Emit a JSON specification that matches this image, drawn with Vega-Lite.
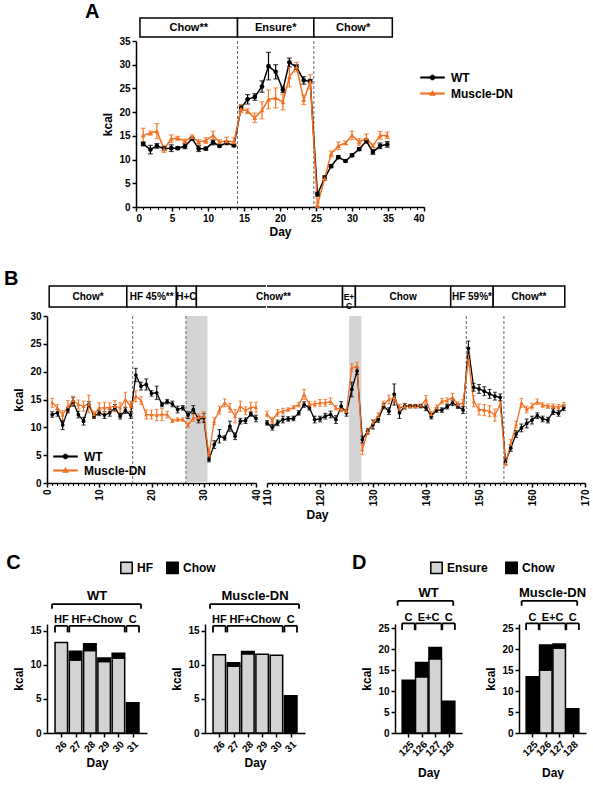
{
  "$schema": "https://vega.github.io/schema/vega-lite/v6.json",
  "background": "white",
  "padding": {"left": 3, "top": 2, "right": 3, "bottom": 0},
  "config": {
    "font": "Liberation Sans",
    "view": {"stroke": null},
    "axis": {"domainColor": "black", "domainWidth": 1.5, "tickColor": "black", "tickWidth": 1.5, "tickSize": 4, "labelFontWeight": "bold", "labelFontSize": 10, "labelColor": "black", "labelPadding": 2, "labelOverlap": false, "labelBound": false, "titleFontWeight": "bold", "titleFontSize": 12, "titleColor": "black", "grid": false},
    "title": {"fontSize": 20, "fontWeight": "bold", "anchor": "start", "color": "black"},
    "legend": {"labelFontWeight": "bold", "labelFontSize": 12, "labelColor": "black"},
    "text": {"fontWeight": "bold", "color": "black"}
  },
  "resolve": {"scale": {"color": "independent", "shape": "independent", "fill": "independent"}},
  "spacing": 32,
  "datasets": {
    "hdrA": [
      {"label": "Chow**", "start": 0.55, "end": 14.1},
      {"label": "Ensure*", "start": 14.1, "end": 24.7},
      {"label": "Chow*", "start": 24.7, "end": 35.6}
    ],
    "lineA": [{"day": 14.1}, {"day": 24.7}],
    "a": [
      {"day": 1.0, "group": "WT", "kcal": 13.3, "sem": 0.4},
      {"day": 2.0, "group": "WT", "kcal": 12.1, "sem": 0.9},
      {"day": 2.9, "group": "WT", "kcal": 12.9, "sem": 0.5},
      {"day": 3.9, "group": "WT", "kcal": 12.3, "sem": 0.4},
      {"day": 4.9, "group": "WT", "kcal": 12.4, "sem": 0.7},
      {"day": 5.8, "group": "WT", "kcal": 12.4, "sem": 0.3},
      {"day": 6.8, "group": "WT", "kcal": 12.8, "sem": 0.5},
      {"day": 7.8, "group": "WT", "kcal": 14.4, "sem": 0.3},
      {"day": 8.7, "group": "WT", "kcal": 12.3, "sem": 0.6},
      {"day": 9.7, "group": "WT", "kcal": 12.3, "sem": 0.3},
      {"day": 10.7, "group": "WT", "kcal": 13.6, "sem": 0.5},
      {"day": 11.6, "group": "WT", "kcal": 12.9, "sem": 0.3},
      {"day": 12.6, "group": "WT", "kcal": 13.5, "sem": 0.3},
      {"day": 13.6, "group": "WT", "kcal": 13.0, "sem": 0.3},
      {"day": 14.6, "group": "WT", "kcal": 20.9, "sem": 0.6},
      {"day": 15.5, "group": "WT", "kcal": 22.7, "sem": 1.0},
      {"day": 16.5, "group": "WT", "kcal": 23.2, "sem": 0.7},
      {"day": 17.5, "group": "WT", "kcal": 25.4, "sem": 1.2},
      {"day": 18.4, "group": "WT", "kcal": 29.7, "sem": 2.9},
      {"day": 19.4, "group": "WT", "kcal": 28.5, "sem": 1.5},
      {"day": 20.4, "group": "WT", "kcal": 24.7, "sem": 0.6},
      {"day": 21.3, "group": "WT", "kcal": 30.5, "sem": 0.9},
      {"day": 22.3, "group": "WT", "kcal": 29.5, "sem": 0.5},
      {"day": 23.3, "group": "WT", "kcal": 26.7, "sem": 0.8},
      {"day": 24.2, "group": "WT", "kcal": 26.5, "sem": 0.4},
      {"day": 25.2, "group": "WT", "kcal": 2.7, "sem": 0.4},
      {"day": 26.2, "group": "WT", "kcal": 6.1, "sem": 0.5},
      {"day": 27.1, "group": "WT", "kcal": 8.6, "sem": 0.3},
      {"day": 28.1, "group": "WT", "kcal": 10.5, "sem": 0.3},
      {"day": 29.1, "group": "WT", "kcal": 9.7, "sem": 0.2},
      {"day": 30.0, "group": "WT", "kcal": 10.9, "sem": 0.3},
      {"day": 31.0, "group": "WT", "kcal": 12.2, "sem": 0.3},
      {"day": 32.0, "group": "WT", "kcal": 13.9, "sem": 0.4},
      {"day": 32.9, "group": "WT", "kcal": 11.6, "sem": 0.5},
      {"day": 33.9, "group": "WT", "kcal": 12.9, "sem": 0.6},
      {"day": 34.9, "group": "WT", "kcal": 13.2, "sem": 0.6},
      {"day": 1.0, "group": "Muscle-DN", "kcal": 15.1, "sem": 1.5},
      {"day": 2.0, "group": "Muscle-DN", "kcal": 15.6, "sem": 0.4},
      {"day": 2.9, "group": "Muscle-DN", "kcal": 16.0, "sem": 1.6},
      {"day": 3.9, "group": "Muscle-DN", "kcal": 12.2, "sem": 0.7},
      {"day": 4.9, "group": "Muscle-DN", "kcal": 14.4, "sem": 0.8},
      {"day": 5.8, "group": "Muscle-DN", "kcal": 14.5, "sem": 0.4},
      {"day": 6.8, "group": "Muscle-DN", "kcal": 13.9, "sem": 0.4},
      {"day": 7.8, "group": "Muscle-DN", "kcal": 14.8, "sem": 0.4},
      {"day": 8.7, "group": "Muscle-DN", "kcal": 13.7, "sem": 0.5},
      {"day": 9.7, "group": "Muscle-DN", "kcal": 14.0, "sem": 0.6},
      {"day": 10.7, "group": "Muscle-DN", "kcal": 15.1, "sem": 0.9},
      {"day": 11.6, "group": "Muscle-DN", "kcal": 13.7, "sem": 0.5},
      {"day": 12.6, "group": "Muscle-DN", "kcal": 13.9, "sem": 0.8},
      {"day": 13.6, "group": "Muscle-DN", "kcal": 13.7, "sem": 0.9},
      {"day": 14.6, "group": "Muscle-DN", "kcal": 20.7, "sem": 0.8},
      {"day": 15.5, "group": "Muscle-DN", "kcal": 20.2, "sem": 0.5},
      {"day": 16.5, "group": "Muscle-DN", "kcal": 18.8, "sem": 1.0},
      {"day": 17.5, "group": "Muscle-DN", "kcal": 20.4, "sem": 1.8},
      {"day": 18.4, "group": "Muscle-DN", "kcal": 22.7, "sem": 2.0},
      {"day": 19.4, "group": "Muscle-DN", "kcal": 23.0, "sem": 2.1},
      {"day": 20.4, "group": "Muscle-DN", "kcal": 22.1, "sem": 1.6},
      {"day": 21.3, "group": "Muscle-DN", "kcal": 27.4, "sem": 2.1},
      {"day": 22.3, "group": "Muscle-DN", "kcal": 29.5, "sem": 1.0},
      {"day": 23.3, "group": "Muscle-DN", "kcal": 22.6, "sem": 1.0},
      {"day": 24.2, "group": "Muscle-DN", "kcal": 26.4, "sem": 1.5},
      {"day": 25.2, "group": "Muscle-DN", "kcal": 0.4, "sem": 0.5},
      {"day": 26.2, "group": "Muscle-DN", "kcal": 6.0, "sem": 0.4},
      {"day": 27.1, "group": "Muscle-DN", "kcal": 11.2, "sem": 0.6},
      {"day": 28.1, "group": "Muscle-DN", "kcal": 12.9, "sem": 0.8},
      {"day": 29.1, "group": "Muscle-DN", "kcal": 13.5, "sem": 0.4},
      {"day": 30.0, "group": "Muscle-DN", "kcal": 15.1, "sem": 0.9},
      {"day": 31.0, "group": "Muscle-DN", "kcal": 13.7, "sem": 0.7},
      {"day": 32.0, "group": "Muscle-DN", "kcal": 14.5, "sem": 0.9},
      {"day": 32.9, "group": "Muscle-DN", "kcal": 12.9, "sem": 0.4},
      {"day": 33.9, "group": "Muscle-DN", "kcal": 15.1, "sem": 0.8},
      {"day": 34.9, "group": "Muscle-DN", "kcal": 15.1, "sem": 0.7}
    ],
    "hdrB": [
      {"label": "Chow*", "start": 0.45, "end": 16.4},
      {"label": "HF 45%**", "start": 16.4, "end": 26.6},
      {"label": "H+C", "start": 26.6, "end": 30.7},
      {"label": "Chow**", "start": 30.7, "end": 125.3},
      {"label": "E+\nC", "start": 125.3, "end": 127.9},
      {"label": "Chow", "start": 127.9, "end": 147.2},
      {"label": "HF 59%*", "start": 147.2, "end": 155.8},
      {"label": "Chow**", "start": 155.8, "end": 170.3}
    ],
    "bandB": [{"start": 26.6, "end": 30.7}, {"start": 125.5, "end": 127.8}],
    "lineB": [{"day": 16.4}, {"day": 26.6}, {"day": 147.6}, {"day": 154.7}],
    "b": [
      {"day": 1, "group": "WT", "kcal": 12.3, "sem": 0.5},
      {"day": 2, "group": "WT", "kcal": 12.6, "sem": 0.6},
      {"day": 3, "group": "WT", "kcal": 10.4, "sem": 0.8},
      {"day": 4, "group": "WT", "kcal": 13.1, "sem": 0.5},
      {"day": 5, "group": "WT", "kcal": 14.6, "sem": 0.8},
      {"day": 6, "group": "WT", "kcal": 12.3, "sem": 0.6},
      {"day": 7, "group": "WT", "kcal": 11.1, "sem": 0.7},
      {"day": 8, "group": "WT", "kcal": 14.1, "sem": 0.5},
      {"day": 9, "group": "WT", "kcal": 12.0, "sem": 0.4},
      {"day": 10, "group": "WT", "kcal": 12.6, "sem": 0.5},
      {"day": 11, "group": "WT", "kcal": 12.2, "sem": 0.6},
      {"day": 12, "group": "WT", "kcal": 12.6, "sem": 0.6},
      {"day": 13, "group": "WT", "kcal": 13.5, "sem": 0.6},
      {"day": 14, "group": "WT", "kcal": 12.0, "sem": 0.5},
      {"day": 15, "group": "WT", "kcal": 13.0, "sem": 0.5},
      {"day": 16, "group": "WT", "kcal": 12.2, "sem": 0.6},
      {"day": 17, "group": "WT", "kcal": 19.4, "sem": 1.2},
      {"day": 18, "group": "WT", "kcal": 17.4, "sem": 0.7},
      {"day": 19, "group": "WT", "kcal": 17.7, "sem": 1.0},
      {"day": 20, "group": "WT", "kcal": 16.1, "sem": 0.5},
      {"day": 21, "group": "WT", "kcal": 16.2, "sem": 1.2},
      {"day": 22, "group": "WT", "kcal": 14.1, "sem": 0.4},
      {"day": 23, "group": "WT", "kcal": 14.6, "sem": 0.4},
      {"day": 24, "group": "WT", "kcal": 14.2, "sem": 0.5},
      {"day": 25, "group": "WT", "kcal": 13.2, "sem": 0.6},
      {"day": 26, "group": "WT", "kcal": 13.5, "sem": 0.4},
      {"day": 27, "group": "WT", "kcal": 12.2, "sem": 0.6},
      {"day": 28, "group": "WT", "kcal": 13.2, "sem": 0.7},
      {"day": 29, "group": "WT", "kcal": 11.4, "sem": 0.6},
      {"day": 30, "group": "WT", "kcal": 11.7, "sem": 0.8},
      {"day": 31, "group": "WT", "kcal": 4.2, "sem": 0.4},
      {"day": 32, "group": "WT", "kcal": 6.9, "sem": 0.7},
      {"day": 33, "group": "WT", "kcal": 8.4, "sem": 1.2},
      {"day": 34, "group": "WT", "kcal": 8.1, "sem": 0.4},
      {"day": 35, "group": "WT", "kcal": 10.2, "sem": 0.9},
      {"day": 36, "group": "WT", "kcal": 8.4, "sem": 0.6},
      {"day": 37, "group": "WT", "kcal": 11.1, "sem": 0.5},
      {"day": 38, "group": "WT", "kcal": 11.2, "sem": 0.5},
      {"day": 39, "group": "WT", "kcal": 12.4, "sem": 0.4},
      {"day": 40, "group": "WT", "kcal": 11.6, "sem": 0.6},
      {"day": 110, "group": "WT", "kcal": 10.8, "sem": 0.4},
      {"day": 111, "group": "WT", "kcal": 10.0, "sem": 0.5},
      {"day": 112, "group": "WT", "kcal": 10.8, "sem": 0.5},
      {"day": 113, "group": "WT", "kcal": 11.4, "sem": 0.6},
      {"day": 114, "group": "WT", "kcal": 11.5, "sem": 0.4},
      {"day": 115, "group": "WT", "kcal": 11.6, "sem": 0.4},
      {"day": 116, "group": "WT", "kcal": 12.6, "sem": 0.4},
      {"day": 117, "group": "WT", "kcal": 14.1, "sem": 0.5},
      {"day": 118, "group": "WT", "kcal": 13.5, "sem": 0.4},
      {"day": 119, "group": "WT", "kcal": 11.4, "sem": 0.6},
      {"day": 120, "group": "WT", "kcal": 11.5, "sem": 0.5},
      {"day": 121, "group": "WT", "kcal": 12.0, "sem": 0.5},
      {"day": 122, "group": "WT", "kcal": 12.3, "sem": 0.6},
      {"day": 123, "group": "WT", "kcal": 11.4, "sem": 0.7},
      {"day": 124, "group": "WT", "kcal": 13.8, "sem": 0.8},
      {"day": 125, "group": "WT", "kcal": 12.6, "sem": 0.6},
      {"day": 126, "group": "WT", "kcal": 16.8, "sem": 1.3},
      {"day": 127, "group": "WT", "kcal": 20.1, "sem": 0.6},
      {"day": 128, "group": "WT", "kcal": 7.8, "sem": 0.6},
      {"day": 129, "group": "WT", "kcal": 9.3, "sem": 0.5},
      {"day": 130, "group": "WT", "kcal": 10.5, "sem": 0.8},
      {"day": 131, "group": "WT", "kcal": 11.4, "sem": 0.5},
      {"day": 132, "group": "WT", "kcal": 13.8, "sem": 0.5},
      {"day": 133, "group": "WT", "kcal": 12.9, "sem": 0.6},
      {"day": 134, "group": "WT", "kcal": 15.9, "sem": 1.9},
      {"day": 135, "group": "WT", "kcal": 12.6, "sem": 1.0},
      {"day": 136, "group": "WT", "kcal": 13.8, "sem": 0.5},
      {"day": 137, "group": "WT", "kcal": 13.8, "sem": 0.3},
      {"day": 138, "group": "WT", "kcal": 13.8, "sem": 0.3},
      {"day": 139, "group": "WT", "kcal": 13.8, "sem": 0.3},
      {"day": 140, "group": "WT", "kcal": 13.5, "sem": 0.5},
      {"day": 141, "group": "WT", "kcal": 12.0, "sem": 0.5},
      {"day": 142, "group": "WT", "kcal": 13.1, "sem": 0.4},
      {"day": 143, "group": "WT", "kcal": 13.1, "sem": 0.4},
      {"day": 144, "group": "WT", "kcal": 13.7, "sem": 0.4},
      {"day": 145, "group": "WT", "kcal": 14.4, "sem": 0.5},
      {"day": 146, "group": "WT", "kcal": 13.8, "sem": 0.4},
      {"day": 147, "group": "WT", "kcal": 13.1, "sem": 0.6},
      {"day": 148, "group": "WT", "kcal": 24.2, "sem": 1.3},
      {"day": 149, "group": "WT", "kcal": 17.2, "sem": 0.7},
      {"day": 150, "group": "WT", "kcal": 16.9, "sem": 0.8},
      {"day": 151, "group": "WT", "kcal": 16.5, "sem": 0.8},
      {"day": 152, "group": "WT", "kcal": 16.0, "sem": 0.8},
      {"day": 153, "group": "WT", "kcal": 15.6, "sem": 0.7},
      {"day": 154, "group": "WT", "kcal": 15.4, "sem": 0.6},
      {"day": 155, "group": "WT", "kcal": 3.8, "sem": 0.5},
      {"day": 156, "group": "WT", "kcal": 6.3, "sem": 0.6},
      {"day": 157, "group": "WT", "kcal": 8.8, "sem": 0.6},
      {"day": 158, "group": "WT", "kcal": 9.9, "sem": 0.7},
      {"day": 159, "group": "WT", "kcal": 10.7, "sem": 0.8},
      {"day": 160, "group": "WT", "kcal": 11.3, "sem": 0.7},
      {"day": 161, "group": "WT", "kcal": 12.1, "sem": 0.5},
      {"day": 162, "group": "WT", "kcal": 11.5, "sem": 0.5},
      {"day": 163, "group": "WT", "kcal": 11.3, "sem": 0.5},
      {"day": 164, "group": "WT", "kcal": 12.8, "sem": 0.5},
      {"day": 165, "group": "WT", "kcal": 12.5, "sem": 0.5},
      {"day": 166, "group": "WT", "kcal": 13.5, "sem": 0.5},
      {"day": 1, "group": "Muscle-DN", "kcal": 14.4, "sem": 0.8},
      {"day": 2, "group": "Muscle-DN", "kcal": 13.5, "sem": 0.6},
      {"day": 3, "group": "Muscle-DN", "kcal": 12.2, "sem": 0.8},
      {"day": 4, "group": "Muscle-DN", "kcal": 13.8, "sem": 1.0},
      {"day": 5, "group": "Muscle-DN", "kcal": 14.8, "sem": 0.8},
      {"day": 6, "group": "Muscle-DN", "kcal": 14.1, "sem": 0.8},
      {"day": 7, "group": "Muscle-DN", "kcal": 13.8, "sem": 0.9},
      {"day": 8, "group": "Muscle-DN", "kcal": 14.2, "sem": 1.6},
      {"day": 9, "group": "Muscle-DN", "kcal": 12.3, "sem": 0.6},
      {"day": 10, "group": "Muscle-DN", "kcal": 13.5, "sem": 0.9},
      {"day": 11, "group": "Muscle-DN", "kcal": 13.5, "sem": 1.0},
      {"day": 12, "group": "Muscle-DN", "kcal": 13.6, "sem": 0.8},
      {"day": 13, "group": "Muscle-DN", "kcal": 13.8, "sem": 1.0},
      {"day": 14, "group": "Muscle-DN", "kcal": 13.5, "sem": 0.9},
      {"day": 15, "group": "Muscle-DN", "kcal": 15.0, "sem": 1.3},
      {"day": 16, "group": "Muscle-DN", "kcal": 13.8, "sem": 0.9},
      {"day": 17, "group": "Muscle-DN", "kcal": 15.6, "sem": 1.0},
      {"day": 18, "group": "Muscle-DN", "kcal": 14.8, "sem": 0.7},
      {"day": 19, "group": "Muscle-DN", "kcal": 12.3, "sem": 0.8},
      {"day": 20, "group": "Muscle-DN", "kcal": 12.3, "sem": 0.8},
      {"day": 21, "group": "Muscle-DN", "kcal": 12.2, "sem": 1.0},
      {"day": 22, "group": "Muscle-DN", "kcal": 12.3, "sem": 1.1},
      {"day": 23, "group": "Muscle-DN", "kcal": 12.3, "sem": 0.6},
      {"day": 24, "group": "Muscle-DN", "kcal": 11.2, "sem": 0.3},
      {"day": 25, "group": "Muscle-DN", "kcal": 11.4, "sem": 0.3},
      {"day": 26, "group": "Muscle-DN", "kcal": 11.4, "sem": 0.3},
      {"day": 27, "group": "Muscle-DN", "kcal": 10.4, "sem": 0.4},
      {"day": 28, "group": "Muscle-DN", "kcal": 11.7, "sem": 0.6},
      {"day": 29, "group": "Muscle-DN", "kcal": 11.7, "sem": 0.7},
      {"day": 30, "group": "Muscle-DN", "kcal": 12.0, "sem": 0.8},
      {"day": 31, "group": "Muscle-DN", "kcal": 5.1, "sem": 0.5},
      {"day": 32, "group": "Muscle-DN", "kcal": 11.1, "sem": 0.6},
      {"day": 33, "group": "Muscle-DN", "kcal": 13.1, "sem": 0.7},
      {"day": 34, "group": "Muscle-DN", "kcal": 14.4, "sem": 0.7},
      {"day": 35, "group": "Muscle-DN", "kcal": 13.5, "sem": 0.8},
      {"day": 36, "group": "Muscle-DN", "kcal": 12.0, "sem": 1.2},
      {"day": 37, "group": "Muscle-DN", "kcal": 13.8, "sem": 0.9},
      {"day": 38, "group": "Muscle-DN", "kcal": 13.0, "sem": 0.7},
      {"day": 39, "group": "Muscle-DN", "kcal": 13.6, "sem": 0.9},
      {"day": 40, "group": "Muscle-DN", "kcal": 13.6, "sem": 0.9},
      {"day": 110, "group": "Muscle-DN", "kcal": 12.4, "sem": 0.5},
      {"day": 111, "group": "Muscle-DN", "kcal": 11.2, "sem": 0.5},
      {"day": 112, "group": "Muscle-DN", "kcal": 12.6, "sem": 0.6},
      {"day": 113, "group": "Muscle-DN", "kcal": 12.9, "sem": 0.5},
      {"day": 114, "group": "Muscle-DN", "kcal": 13.2, "sem": 0.3},
      {"day": 115, "group": "Muscle-DN", "kcal": 13.6, "sem": 0.3},
      {"day": 116, "group": "Muscle-DN", "kcal": 14.1, "sem": 0.4},
      {"day": 117, "group": "Muscle-DN", "kcal": 15.9, "sem": 0.9},
      {"day": 118, "group": "Muscle-DN", "kcal": 14.1, "sem": 0.6},
      {"day": 119, "group": "Muscle-DN", "kcal": 14.2, "sem": 0.5},
      {"day": 120, "group": "Muscle-DN", "kcal": 14.4, "sem": 0.6},
      {"day": 121, "group": "Muscle-DN", "kcal": 14.4, "sem": 0.6},
      {"day": 122, "group": "Muscle-DN", "kcal": 14.7, "sem": 0.6},
      {"day": 123, "group": "Muscle-DN", "kcal": 13.5, "sem": 0.4},
      {"day": 124, "group": "Muscle-DN", "kcal": 13.2, "sem": 0.4},
      {"day": 125, "group": "Muscle-DN", "kcal": 12.9, "sem": 0.4},
      {"day": 126, "group": "Muscle-DN", "kcal": 20.7, "sem": 0.7},
      {"day": 127, "group": "Muscle-DN", "kcal": 21.0, "sem": 0.7},
      {"day": 128, "group": "Muscle-DN", "kcal": 6.0, "sem": 0.9},
      {"day": 129, "group": "Muscle-DN", "kcal": 9.3, "sem": 0.5},
      {"day": 130, "group": "Muscle-DN", "kcal": 10.8, "sem": 0.5},
      {"day": 131, "group": "Muscle-DN", "kcal": 12.0, "sem": 0.6},
      {"day": 132, "group": "Muscle-DN", "kcal": 14.1, "sem": 0.6},
      {"day": 133, "group": "Muscle-DN", "kcal": 15.0, "sem": 0.8},
      {"day": 134, "group": "Muscle-DN", "kcal": 15.3, "sem": 0.8},
      {"day": 135, "group": "Muscle-DN", "kcal": 13.5, "sem": 0.6},
      {"day": 136, "group": "Muscle-DN", "kcal": 13.8, "sem": 0.5},
      {"day": 137, "group": "Muscle-DN", "kcal": 13.8, "sem": 0.3},
      {"day": 138, "group": "Muscle-DN", "kcal": 13.8, "sem": 0.3},
      {"day": 139, "group": "Muscle-DN", "kcal": 13.9, "sem": 0.3},
      {"day": 140, "group": "Muscle-DN", "kcal": 15.0, "sem": 0.7},
      {"day": 141, "group": "Muscle-DN", "kcal": 12.3, "sem": 0.5},
      {"day": 142, "group": "Muscle-DN", "kcal": 13.5, "sem": 0.5},
      {"day": 143, "group": "Muscle-DN", "kcal": 14.7, "sem": 0.5},
      {"day": 144, "group": "Muscle-DN", "kcal": 14.8, "sem": 0.5},
      {"day": 145, "group": "Muscle-DN", "kcal": 15.4, "sem": 0.7},
      {"day": 146, "group": "Muscle-DN", "kcal": 14.1, "sem": 0.5},
      {"day": 147, "group": "Muscle-DN", "kcal": 14.4, "sem": 0.6},
      {"day": 148, "group": "Muscle-DN", "kcal": 22.2, "sem": 0.9},
      {"day": 149, "group": "Muscle-DN", "kcal": 14.7, "sem": 1.0},
      {"day": 150, "group": "Muscle-DN", "kcal": 13.2, "sem": 1.0},
      {"day": 151, "group": "Muscle-DN", "kcal": 13.1, "sem": 1.0},
      {"day": 152, "group": "Muscle-DN", "kcal": 12.9, "sem": 1.0},
      {"day": 153, "group": "Muscle-DN", "kcal": 12.2, "sem": 1.1},
      {"day": 154, "group": "Muscle-DN", "kcal": 14.1, "sem": 0.6},
      {"day": 155, "group": "Muscle-DN", "kcal": 3.6, "sem": 0.5},
      {"day": 156, "group": "Muscle-DN", "kcal": 7.0, "sem": 0.8},
      {"day": 157, "group": "Muscle-DN", "kcal": 10.5, "sem": 0.6},
      {"day": 158, "group": "Muscle-DN", "kcal": 14.4, "sem": 0.8},
      {"day": 159, "group": "Muscle-DN", "kcal": 13.2, "sem": 0.6},
      {"day": 160, "group": "Muscle-DN", "kcal": 13.8, "sem": 0.5},
      {"day": 161, "group": "Muscle-DN", "kcal": 14.6, "sem": 0.5},
      {"day": 162, "group": "Muscle-DN", "kcal": 14.0, "sem": 0.4},
      {"day": 163, "group": "Muscle-DN", "kcal": 13.8, "sem": 0.4},
      {"day": 164, "group": "Muscle-DN", "kcal": 13.8, "sem": 0.4},
      {"day": 165, "group": "Muscle-DN", "kcal": 13.6, "sem": 0.5},
      {"day": 166, "group": "Muscle-DN", "kcal": 14.0, "sem": 0.5}
    ],
    "barC": [
      {"group": "WT", "day": 26, "comp": "HF", "kcal": 13.3},
      {"group": "WT", "day": 27, "comp": "HF", "kcal": 10.7},
      {"group": "WT", "day": 27, "comp": "Chow", "kcal": 1.3},
      {"group": "WT", "day": 28, "comp": "HF", "kcal": 12.1},
      {"group": "WT", "day": 28, "comp": "Chow", "kcal": 1.0},
      {"group": "WT", "day": 29, "comp": "HF", "kcal": 10.5},
      {"group": "WT", "day": 29, "comp": "Chow", "kcal": 0.5},
      {"group": "WT", "day": 30, "comp": "HF", "kcal": 11.0},
      {"group": "WT", "day": 30, "comp": "Chow", "kcal": 0.7},
      {"group": "WT", "day": 31, "comp": "Chow", "kcal": 4.45},
      {"group": "Muscle-DN", "day": 26, "comp": "HF", "kcal": 11.5},
      {"group": "Muscle-DN", "day": 27, "comp": "HF", "kcal": 9.8},
      {"group": "Muscle-DN", "day": 27, "comp": "Chow", "kcal": 0.5},
      {"group": "Muscle-DN", "day": 28, "comp": "HF", "kcal": 11.65},
      {"group": "Muscle-DN", "day": 28, "comp": "Chow", "kcal": 0.3},
      {"group": "Muscle-DN", "day": 29, "comp": "HF", "kcal": 11.55},
      {"group": "Muscle-DN", "day": 30, "comp": "HF", "kcal": 11.4},
      {"group": "Muscle-DN", "day": 31, "comp": "Chow", "kcal": 5.45}
    ],
    "barD": [
      {"group": "WT", "day": 125, "comp": "Chow", "kcal": 12.6},
      {"group": "WT", "day": 126, "comp": "Ensure", "kcal": 13.4},
      {"group": "WT", "day": 126, "comp": "Chow", "kcal": 3.4},
      {"group": "WT", "day": 127, "comp": "Ensure", "kcal": 17.7},
      {"group": "WT", "day": 127, "comp": "Chow", "kcal": 2.7},
      {"group": "WT", "day": 128, "comp": "Chow", "kcal": 7.6},
      {"group": "Muscle-DN", "day": 125, "comp": "Chow", "kcal": 13.4},
      {"group": "Muscle-DN", "day": 126, "comp": "Ensure", "kcal": 15.0},
      {"group": "Muscle-DN", "day": 126, "comp": "Chow", "kcal": 6.0},
      {"group": "Muscle-DN", "day": 127, "comp": "Ensure", "kcal": 20.3},
      {"group": "Muscle-DN", "day": 127, "comp": "Chow", "kcal": 0.9},
      {"group": "Muscle-DN", "day": 128, "comp": "Chow", "kcal": 5.8}
    ],
    "brC": [
      {"group": "WT", "level": "sub", "label": "HF", "from": 26, "to": 26},
      {"group": "WT", "level": "sub", "label": "HF+Chow", "from": 27, "to": 30},
      {"group": "WT", "level": "sub", "label": "C", "from": 31, "to": 31},
      {"group": "WT", "level": "top", "label": "WT", "from": 26, "to": 31},
      {"group": "Muscle-DN", "level": "sub", "label": "HF", "from": 26, "to": 26},
      {"group": "Muscle-DN", "level": "sub", "label": "HF+Chow", "from": 27, "to": 30},
      {"group": "Muscle-DN", "level": "sub", "label": "C", "from": 31, "to": 31},
      {"group": "Muscle-DN", "level": "top", "label": "Muscle-DN", "from": 26, "to": 31}
    ],
    "brD": [
      {"group": "WT", "level": "sub", "label": "C", "from": 125, "to": 125},
      {"group": "WT", "level": "sub", "label": "E+C", "from": 126, "to": 127},
      {"group": "WT", "level": "sub", "label": "C", "from": 128, "to": 128},
      {"group": "WT", "level": "top", "label": "WT", "from": 125, "to": 128},
      {"group": "Muscle-DN", "level": "sub", "label": "C", "from": 125, "to": 125},
      {"group": "Muscle-DN", "level": "sub", "label": "E+C", "from": 126, "to": 127},
      {"group": "Muscle-DN", "level": "sub", "label": "C", "from": 128, "to": 128},
      {"group": "Muscle-DN", "level": "top", "label": "Muscle-DN", "from": 125, "to": 128}
    ]
  },
  "vconcat": [
    {
      "resolve": {"scale": {"color": "independent", "shape": "independent"}},
      "spacing": 0,
      "hconcat": [
        {"width": 37, "height": 10, "data": {"values": [{}]}, "mark": {"type": "text", "text": ""}},
        {
          "title": {"text": "A", "dx": -17, "offset": -5},
          "resolve": {"scale": {"color": "independent", "shape": "independent"}},
          "bounds": "flush",
          "spacing": 4,
          "vconcat": [
            {
              "width": 288, "height": 19,
              "data": {"name": "hdrA"},
              "layer": [
                {
                  "mark": {"type": "rect", "fill": "white", "stroke": "black", "strokeWidth": 1.5},
                  "encoding": {
                    "x": {"field": "start", "type": "quantitative", "scale": {"domain": [0, 40]}, "axis": null},
                    "x2": {"field": "end"},
                    "y": {"datum": 0, "type": "quantitative", "scale": {"domain": [0, 1]}, "axis": null},
                    "y2": {"datum": 1}
                  }
                },
                {
                  "transform": [{"fold": ["start", "end"], "as": ["k", "v"]}],
                  "mark": {"type": "text", "fontSize": 11},
                  "encoding": {
                    "x": {"aggregate": "mean", "field": "v", "type": "quantitative", "axis": null},
                    "y": {"datum": 0.5, "type": "quantitative", "axis": null},
                    "text": {"field": "label", "type": "nominal"},
                    "detail": {"field": "start", "type": "quantitative"}
                  }
                }
              ]
            },
            {
              "width": 288, "height": 166,
              "resolve": {"axis": {"x": "independent"}},
              "layer": [
                {
                  "data": {"name": "lineA"},
                  "mark": {"type": "rule", "color": "#666666", "strokeDash": [3, 2], "strokeWidth": 1},
                  "encoding": {
                    "x": {"field": "day", "type": "quantitative", "scale": {"domain": [0, 40]},
                      "axis": {"orient": "bottom", "tickCount": 40, "labels": false, "domain": false, "tickSize": 2.5, "tickWidth": 1, "title": null}}
                  }
                },
                {
                  "data": {"name": "a"},
                  "mark": {"type": "line", "strokeWidth": 1.5},
                  "encoding": {
                    "x": {"field": "day", "type": "quantitative", "axis": {"orient": "bottom", "values": [0, 5, 10, 15, 20, 25, 30, 35, 40], "title": "Day", "titlePadding": 3}},
                    "y": {"field": "kcal", "type": "quantitative", "scale": {"domain": [0, 35]}, "axis": {"values": [0, 5, 10, 15, 20, 25, 30, 35], "title": "kcal"}},
                    "color": {
                      "field": "group", "type": "nominal",
                      "scale": {"domain": ["WT", "Muscle-DN"], "range": ["black", "#F37021"]},
                      "legend": {
                        "orient": "none", "legendX": 290, "legendY": 30, "title": null,
                        "symbolSize": 144, "symbolStrokeWidth": 0.6, "labelOffset": 12, "labelFontSize": 12, "rowPadding": 3,
                        "encode": {"symbols": {"update": {
                          "shape": {"signal": "datum.value === 'WT' ? 'M-2,-0.11H2V0.11H-2Z M0.42,0A0.42,0.42,0,1,1,-0.42,0A0.42,0.42,0,1,1,0.42,0Z' : 'M-2,-0.11H2V0.11H-2Z M0,-0.52L0.48,0.32L-0.48,0.32Z'"},
                          "fill": {"signal": "datum.value === 'WT' ? 'black' : '#F37021'"}
                        }}}
                      }
                    }
                  }
                },
                {
                  "data": {"name": "a"},
                  "mark": {"type": "errorbar", "ticks": true, "size": 5, "thickness": 1.2},
                  "encoding": {
                    "x": {"field": "day", "type": "quantitative", "axis": null},
                    "y": {"field": "kcal", "type": "quantitative", "axis": {"values": [0, 5, 10, 15, 20, 25, 30, 35], "title": "kcal"}},
                    "yError": {"field": "sem"},
                    "color": {"field": "group", "type": "nominal"}
                  }
                },
                {
                  "data": {"name": "a"},
                  "transform": [{"filter": "datum.group === 'WT'"}],
                  "mark": {"type": "point", "filled": true, "size": 22, "opacity": 1, "shape": "circle"},
                  "encoding": {
                    "x": {"field": "day", "type": "quantitative", "axis": null},
                    "y": {"field": "kcal", "type": "quantitative", "axis": {"values": [0, 5, 10, 15, 20, 25, 30, 35], "title": "kcal"}},
                    "color": {"field": "group", "type": "nominal"}
                  }
                },
                {
                  "data": {"name": "a"},
                  "transform": [{"filter": "datum.group === 'Muscle-DN'"}],
                  "mark": {"type": "point", "filled": true, "size": 24, "opacity": 1, "shape": "triangle-up"},
                  "encoding": {
                    "x": {"field": "day", "type": "quantitative", "axis": null},
                    "y": {"field": "kcal", "type": "quantitative", "axis": {"values": [0, 5, 10, 15, 20, 25, 30, 35], "title": "kcal"}},
                    "color": {"field": "group", "type": "nominal"}
                  }
                }
              ]
            }
          ]
        }
      ]
    },
    {
      "title": {"text": "B", "dx": -9, "offset": -5},
      "resolve": {"scale": {"color": "independent", "shape": "independent"}},
      "spacing": -11,
      "hconcat": [
        {
          "resolve": {"scale": {"color": "independent", "shape": "independent"}},
          "bounds": "flush",
          "spacing": 7,
          "vconcat": [
            {
              "width": 219, "height": 25,
              "data": {"name": "hdrB"},
              "layer": [
                {
                  "transform": [{"filter": "datum.start < 41.9"}],
                  "mark": {"type": "rect", "fill": "white", "stroke": "black", "strokeWidth": 1.5, "clip": true},
                  "encoding": {
                    "x": {"field": "start", "type": "quantitative", "scale": {"domain": [0, 41.9]}, "axis": null},
                    "x2": {"field": "end"},
                    "y": {"datum": 0, "type": "quantitative", "scale": {"domain": [-0.05, 1.05]}, "axis": null},
                    "y2": {"datum": 1}
                  }
                },
                {
                  "transform": [{"filter": "datum.end < 41.9"}, {"fold": ["start", "end"], "as": ["k", "v"]}],
                  "mark": {"type": "text", "fontSize": 10},
                  "encoding": {
                    "x": {"aggregate": "mean", "field": "v", "type": "quantitative", "axis": null},
                    "y": {"datum": 0.5, "type": "quantitative", "axis": null},
                    "text": {"field": "label", "type": "nominal"},
                    "detail": {"field": "start", "type": "quantitative"}
                  }
                }
              ]
            },
            {
              "width": 209, "height": 167,
              "resolve": {"axis": {"x": "independent"}},
              "layer": [
                {
                  "data": {"name": "bandB"},
                  "transform": [{"filter": "datum.end <= 40"}],
                  "mark": {"type": "rect", "color": "#d4d4d4"},
                  "encoding": {
                    "x": {"field": "start", "type": "quantitative", "scale": {"domain": [0, 40]},
                      "axis": {"orient": "bottom", "tickCount": 40, "labels": false, "domain": false, "tickSize": 2.5, "tickWidth": 1, "title": null}},
                    "x2": {"field": "end"}
                  }
                },
                {
                  "data": {"name": "lineB"},
                  "transform": [{"filter": "datum.day <= 40"}],
                  "mark": {"type": "rule", "color": "#666666", "strokeDash": [3, 2], "strokeWidth": 1},
                  "encoding": {"x": {"field": "day", "type": "quantitative", "axis": null}}
                },
                {
                  "data": {"name": "b"},
                  "transform": [{"filter": "datum.day <= 40"}],
                  "mark": {"type": "line", "strokeWidth": 1.3},
                  "encoding": {
                    "x": {"field": "day", "type": "quantitative", "axis": {"orient": "bottom", "values": [0, 10, 20, 30, 40], "labelAngle": -90, "title": null}},
                    "y": {"field": "kcal", "type": "quantitative", "scale": {"domain": [0, 30]}, "axis": {"values": [0, 5, 10, 15, 20, 25, 30], "title": "kcal"}},
                    "color": {
                      "field": "group", "type": "nominal",
                      "scale": {"domain": ["WT", "Muscle-DN"], "range": ["black", "#F37021"]},
                      "legend": {
                        "orient": "none", "legendX": 12, "legendY": 134, "title": null,
                        "symbolSize": 144, "symbolStrokeWidth": 0.6, "labelOffset": 12, "labelFontSize": 12, "rowPadding": 1,
                        "encode": {"symbols": {"update": {
                          "shape": {"signal": "datum.value === 'WT' ? 'M-2,-0.11H2V0.11H-2Z M0.42,0A0.42,0.42,0,1,1,-0.42,0A0.42,0.42,0,1,1,0.42,0Z' : 'M-2,-0.11H2V0.11H-2Z M0,-0.52L0.48,0.32L-0.48,0.32Z'"},
                          "fill": {"signal": "datum.value === 'WT' ? 'black' : '#F37021'"}
                        }}}
                      }
                    }
                  }
                },
                {
                  "data": {"name": "b"},
                  "transform": [{"filter": "datum.day <= 40"}],
                  "mark": {"type": "errorbar", "ticks": true, "size": 4, "thickness": 1.1},
                  "encoding": {
                    "x": {"field": "day", "type": "quantitative", "axis": null},
                    "y": {"field": "kcal", "type": "quantitative", "axis": {"values": [0, 5, 10, 15, 20, 25, 30], "title": "kcal"}},
                    "yError": {"field": "sem"},
                    "color": {"field": "group", "type": "nominal"}
                  }
                },
                {
                  "data": {"name": "b"},
                  "transform": [{"filter": "datum.day <= 40 && datum.group === 'WT'"}],
                  "mark": {"type": "point", "filled": true, "size": 14, "opacity": 1, "shape": "circle"},
                  "encoding": {
                    "x": {"field": "day", "type": "quantitative", "axis": null},
                    "y": {"field": "kcal", "type": "quantitative", "axis": {"values": [0, 5, 10, 15, 20, 25, 30], "title": "kcal"}},
                    "color": {"field": "group", "type": "nominal"}
                  }
                },
                {
                  "data": {"name": "b"},
                  "transform": [{"filter": "datum.day <= 40 && datum.group === 'Muscle-DN'"}],
                  "mark": {"type": "point", "filled": true, "size": 16, "opacity": 1, "shape": "triangle-up"},
                  "encoding": {
                    "x": {"field": "day", "type": "quantitative", "axis": null},
                    "y": {"field": "kcal", "type": "quantitative", "axis": {"values": [0, 5, 10, 15, 20, 25, 30], "title": "kcal"}},
                    "color": {"field": "group", "type": "nominal"}
                  }
                }
              ]
            }
          ]
        },
        {
          "resolve": {"scale": {"color": "independent", "shape": "independent"}},
          "bounds": "flush",
          "spacing": 7,
          "vconcat": [
            {
              "width": 321, "height": 25,
              "data": {"name": "hdrB"},
              "layer": [
                {
                  "transform": [{"filter": "datum.end > 110"}],
                  "mark": {"type": "rect", "fill": "white", "stroke": "black", "strokeWidth": 1.5, "clip": true},
                  "encoding": {
                    "x": {"field": "start", "type": "quantitative", "scale": {"domain": [110, 170.6]}, "axis": null},
                    "x2": {"field": "end"},
                    "y": {"datum": 0, "type": "quantitative", "scale": {"domain": [-0.05, 1.05]}, "axis": null},
                    "y2": {"datum": 1}
                  }
                },
                {
                  "transform": [{"filter": "datum.start >= 110 && datum.end - datum.start > 3"}, {"fold": ["start", "end"], "as": ["k", "v"]}],
                  "mark": {"type": "text", "fontSize": 10},
                  "encoding": {
                    "x": {"aggregate": "mean", "field": "v", "type": "quantitative", "axis": null},
                    "y": {"datum": 0.5, "type": "quantitative", "axis": null},
                    "text": {"field": "label", "type": "nominal"},
                    "detail": {"field": "start", "type": "quantitative"}
                  }
                },
                {
                  "transform": [{"filter": "datum.start >= 110 && datum.end - datum.start <= 3"}, {"fold": ["start", "end"], "as": ["k", "v"]}],
                  "mark": {"type": "text", "fontSize": 8.5, "lineBreak": "\n", "lineHeight": 9.5},
                  "encoding": {
                    "x": {"aggregate": "mean", "field": "v", "type": "quantitative", "axis": null},
                    "y": {"datum": 0.5, "type": "quantitative", "axis": null},
                    "text": {"field": "label", "type": "nominal"},
                    "detail": {"field": "start", "type": "quantitative"}
                  }
                },
                {
                  "transform": [{"filter": "datum.start < 41.9 && datum.end > 110"}],
                  "mark": {"type": "text", "fontSize": 10},
                  "encoding": {
                    "x": {"datum": 111.3, "type": "quantitative", "axis": null},
                    "y": {"datum": 0.5, "type": "quantitative", "axis": null},
                    "text": {"field": "label", "type": "nominal"}
                  }
                }
              ]
            },
            {
              "width": 318, "height": 167,
              "resolve": {"axis": {"x": "independent"}},
              "layer": [
                {
                  "data": {"name": "bandB"},
                  "transform": [{"filter": "datum.start >= 110"}],
                  "mark": {"type": "rect", "color": "#d4d4d4"},
                  "encoding": {
                    "x": {"field": "start", "type": "quantitative", "scale": {"domain": [110, 170]},
                      "axis": {"orient": "bottom", "tickCount": 60, "labels": false, "domain": false, "tickSize": 2.5, "tickWidth": 1, "title": null}},
                    "x2": {"field": "end"}
                  }
                },
                {
                  "data": {"name": "lineB"},
                  "transform": [{"filter": "datum.day >= 110"}],
                  "mark": {"type": "rule", "color": "#666666", "strokeDash": [3, 2], "strokeWidth": 1},
                  "encoding": {"x": {"field": "day", "type": "quantitative", "axis": null}}
                },
                {
                  "data": {"name": "b"},
                  "transform": [{"filter": "datum.day >= 110"}],
                  "mark": {"type": "line", "strokeWidth": 1.3},
                  "encoding": {
                    "x": {"field": "day", "type": "quantitative", "axis": {"orient": "bottom", "values": [110, 120, 130, 140, 150, 160, 170], "labelAngle": -90, "title": "Day", "titleX": 50}},
                    "y": {"field": "kcal", "type": "quantitative", "scale": {"domain": [0, 30]}, "axis": null},
                    "color": {"field": "group", "type": "nominal", "scale": {"domain": ["WT", "Muscle-DN"], "range": ["black", "#F37021"]}, "legend": null}
                  }
                },
                {
                  "data": {"name": "b"},
                  "transform": [{"filter": "datum.day >= 110"}],
                  "mark": {"type": "errorbar", "ticks": true, "size": 4, "thickness": 1.1},
                  "encoding": {
                    "x": {"field": "day", "type": "quantitative", "axis": null},
                    "y": {"field": "kcal", "type": "quantitative", "axis": null},
                    "yError": {"field": "sem"},
                    "color": {"field": "group", "type": "nominal", "legend": null}
                  }
                },
                {
                  "data": {"name": "b"},
                  "transform": [{"filter": "datum.day >= 110 && datum.group === 'WT'"}],
                  "mark": {"type": "point", "filled": true, "size": 14, "opacity": 1, "shape": "circle"},
                  "encoding": {
                    "x": {"field": "day", "type": "quantitative", "axis": null},
                    "y": {"field": "kcal", "type": "quantitative", "axis": null},
                    "color": {"field": "group", "type": "nominal", "legend": null}
                  }
                },
                {
                  "data": {"name": "b"},
                  "transform": [{"filter": "datum.day >= 110 && datum.group === 'Muscle-DN'"}],
                  "mark": {"type": "point", "filled": true, "size": 16, "opacity": 1, "shape": "triangle-up"},
                  "encoding": {
                    "x": {"field": "day", "type": "quantitative", "axis": null},
                    "y": {"field": "kcal", "type": "quantitative", "axis": null},
                    "color": {"field": "group", "type": "nominal", "legend": null}
                  }
                }
              ]
            }
          ]
        }
      ]
    },
    {
      "resolve": {"scale": {"fill": "independent"}},
      "spacing": 46,
      "hconcat": [
        {
          "title": {"text": "C", "dx": -6.7, "offset": -12},
          "bounds": "flush",
          "spacing": 58,
          "hconcat": [
            {
              "width": 100, "height": 109,
              "layer": [
                {
                  "data": {"name": "barC"},
                  "transform": [{"filter": "datum.group === 'WT'"}],
                  "mark": {"type": "bar", "width": 12.5, "stroke": "black", "strokeWidth": 1.5, "orient": "vertical"},
                  "encoding": {
                    "x": {"field": "day", "type": "quantitative", "scale": {"domain": [25.5, 31.5]}, "axis": {"values": [26, 27, 28, 29, 30, 31], "labelAngle": -45, "title": "Day"}},
                    "y": {"field": "kcal", "type": "quantitative", "stack": "zero", "scale": {"domain": [0, 15]}, "axis": {"values": [0, 5, 10, 15], "title": "kcal"}},
                    "fill": {"field": "comp", "type": "nominal", "scale": {"domain": ["HF", "Chow"], "range": ["#d3d3d3", "black"]},
                      "legend": {"orient": "none", "legendX": 73, "legendY": -63, "direction": "horizontal", "title": null, "symbolType": "square", "symbolSize": 130, "symbolStrokeColor": "black", "symbolStrokeWidth": 1.5, "labelFontSize": 12, "columnPadding": 10}},
                    "order": {"field": "comp", "sort": "descending"}
                  }
                },
                {
                  "data": {"name": "brC"},
                  "transform": [{"filter": "datum.group === 'WT' && datum.level === 'sub'"}],
                  "mark": {"type": "rule", "strokeWidth": 1.8, "xOffset": -6.3, "x2Offset": 6.3},
                  "encoding": {"x": {"field": "from", "type": "quantitative", "axis": {"values": [26, 27, 28, 29, 30, 31], "labelAngle": -45, "title": "Day"}}, "x2": {"field": "to"}, "y": {"datum": 15.73, "type": "quantitative", "axis": {"values": [0, 5, 10, 15], "title": "kcal"}}}
                },
                {
                  "data": {"name": "brC"},
                  "transform": [{"filter": "datum.group === 'WT' && datum.level === 'sub'"}],
                  "mark": {"type": "rule", "strokeWidth": 1.8, "xOffset": -6.3},
                  "encoding": {"x": {"field": "from", "type": "quantitative", "axis": {"values": [26, 27, 28, 29, 30, 31], "labelAngle": -45, "title": "Day"}}, "y": {"datum": 15.73, "type": "quantitative", "axis": {"values": [0, 5, 10, 15], "title": "kcal"}}, "y2": {"datum": 14.77}}
                },
                {
                  "data": {"name": "brC"},
                  "transform": [{"filter": "datum.group === 'WT' && datum.level === 'sub'"}],
                  "mark": {"type": "rule", "strokeWidth": 1.8, "xOffset": 6.3},
                  "encoding": {"x": {"field": "to", "type": "quantitative", "axis": {"values": [26, 27, 28, 29, 30, 31], "labelAngle": -45, "title": "Day"}}, "y": {"datum": 15.73, "type": "quantitative", "axis": {"values": [0, 5, 10, 15], "title": "kcal"}}, "y2": {"datum": 14.77}}
                },
                {
                  "data": {"name": "brC"},
                  "transform": [{"filter": "datum.group === 'WT' && datum.level === 'sub'"}, {"fold": ["from", "to"], "as": ["k", "v"]}],
                  "mark": {"type": "text", "fontSize": 11, "baseline": "alphabetic"},
                  "encoding": {"x": {"aggregate": "mean", "field": "v", "type": "quantitative", "axis": {"values": [26, 27, 28, 29, 30, 31], "labelAngle": -45, "title": "Day"}}, "y": {"datum": 16.1, "type": "quantitative", "axis": {"values": [0, 5, 10, 15], "title": "kcal"}}, "text": {"field": "label", "type": "nominal"}, "detail": {"field": "from", "type": "quantitative"}}
                },
                {
                  "data": {"name": "brC"},
                  "transform": [{"filter": "datum.group === 'WT' && datum.level === 'top'"}],
                  "mark": {"type": "rule", "strokeWidth": 1.8, "xOffset": -9.3, "x2Offset": 8.3},
                  "encoding": {"x": {"field": "from", "type": "quantitative", "axis": {"values": [26, 27, 28, 29, 30, 31], "labelAngle": -45, "title": "Day"}}, "x2": {"field": "to"}, "y": {"datum": 18.93, "type": "quantitative", "axis": {"values": [0, 5, 10, 15], "title": "kcal"}}}
                },
                {
                  "data": {"name": "brC"},
                  "transform": [{"filter": "datum.group === 'WT' && datum.level === 'top'"}],
                  "mark": {"type": "rule", "strokeWidth": 1.8, "xOffset": -9.3},
                  "encoding": {"x": {"field": "from", "type": "quantitative", "axis": {"values": [26, 27, 28, 29, 30, 31], "labelAngle": -45, "title": "Day"}}, "y": {"datum": 18.93, "type": "quantitative", "axis": {"values": [0, 5, 10, 15], "title": "kcal"}}, "y2": {"datum": 18.25}}
                },
                {
                  "data": {"name": "brC"},
                  "transform": [{"filter": "datum.group === 'WT' && datum.level === 'top'"}],
                  "mark": {"type": "rule", "strokeWidth": 1.8, "xOffset": 8.3},
                  "encoding": {"x": {"field": "to", "type": "quantitative", "axis": {"values": [26, 27, 28, 29, 30, 31], "labelAngle": -45, "title": "Day"}}, "y": {"datum": 18.93, "type": "quantitative", "axis": {"values": [0, 5, 10, 15], "title": "kcal"}}, "y2": {"datum": 18.25}}
                },
                {
                  "data": {"name": "brC"},
                  "transform": [{"filter": "datum.group === 'WT' && datum.level === 'top'"}, {"fold": ["from", "to"], "as": ["k", "v"]}],
                  "mark": {"type": "text", "fontSize": 13, "baseline": "alphabetic"},
                  "encoding": {"x": {"aggregate": "mean", "field": "v", "type": "quantitative", "axis": {"values": [26, 27, 28, 29, 30, 31], "labelAngle": -45, "title": "Day"}}, "y": {"datum": 19.5, "type": "quantitative", "axis": {"values": [0, 5, 10, 15], "title": "kcal"}}, "text": {"field": "label", "type": "nominal"}, "detail": {"field": "from", "type": "quantitative"}}
                }
              ]
            },
            {
              "width": 100, "height": 109,
              "layer": [
                {
                  "data": {"name": "barC"},
                  "transform": [{"filter": "datum.group === 'Muscle-DN'"}],
                  "mark": {"type": "bar", "width": 12.5, "stroke": "black", "strokeWidth": 1.5, "orient": "vertical"},
                  "encoding": {
                    "x": {"field": "day", "type": "quantitative", "scale": {"domain": [25.5, 31.5]}, "axis": {"values": [26, 27, 28, 29, 30, 31], "labelAngle": -45, "title": "Day"}},
                    "y": {"field": "kcal", "type": "quantitative", "stack": "zero", "scale": {"domain": [0, 15]}, "axis": {"values": [0, 5, 10, 15], "title": "kcal"}},
                    "fill": {"field": "comp", "type": "nominal", "scale": {"domain": ["HF", "Chow"], "range": ["#d3d3d3", "black"]},
                      "legend": {"orient": "none", "legendX": 73, "legendY": -63, "direction": "horizontal", "title": null, "symbolType": "square", "symbolSize": 130, "symbolStrokeColor": "black", "symbolStrokeWidth": 1.5, "labelFontSize": 12, "columnPadding": 10}},
                    "order": {"field": "comp", "sort": "descending"}
                  }
                },
                {
                  "data": {"name": "brC"},
                  "transform": [{"filter": "datum.group === 'Muscle-DN' && datum.level === 'sub'"}],
                  "mark": {"type": "rule", "strokeWidth": 1.8, "xOffset": -6.3, "x2Offset": 6.3},
                  "encoding": {"x": {"field": "from", "type": "quantitative", "axis": {"values": [26, 27, 28, 29, 30, 31], "labelAngle": -45, "title": "Day"}}, "x2": {"field": "to"}, "y": {"datum": 15.73, "type": "quantitative", "axis": {"values": [0, 5, 10, 15], "title": "kcal"}}}
                },
                {
                  "data": {"name": "brC"},
                  "transform": [{"filter": "datum.group === 'Muscle-DN' && datum.level === 'sub'"}],
                  "mark": {"type": "rule", "strokeWidth": 1.8, "xOffset": -6.3},
                  "encoding": {"x": {"field": "from", "type": "quantitative", "axis": {"values": [26, 27, 28, 29, 30, 31], "labelAngle": -45, "title": "Day"}}, "y": {"datum": 15.73, "type": "quantitative", "axis": {"values": [0, 5, 10, 15], "title": "kcal"}}, "y2": {"datum": 14.77}}
                },
                {
                  "data": {"name": "brC"},
                  "transform": [{"filter": "datum.group === 'Muscle-DN' && datum.level === 'sub'"}],
                  "mark": {"type": "rule", "strokeWidth": 1.8, "xOffset": 6.3},
                  "encoding": {"x": {"field": "to", "type": "quantitative", "axis": {"values": [26, 27, 28, 29, 30, 31], "labelAngle": -45, "title": "Day"}}, "y": {"datum": 15.73, "type": "quantitative", "axis": {"values": [0, 5, 10, 15], "title": "kcal"}}, "y2": {"datum": 14.77}}
                },
                {
                  "data": {"name": "brC"},
                  "transform": [{"filter": "datum.group === 'Muscle-DN' && datum.level === 'sub'"}, {"fold": ["from", "to"], "as": ["k", "v"]}],
                  "mark": {"type": "text", "fontSize": 11, "baseline": "alphabetic"},
                  "encoding": {"x": {"aggregate": "mean", "field": "v", "type": "quantitative", "axis": {"values": [26, 27, 28, 29, 30, 31], "labelAngle": -45, "title": "Day"}}, "y": {"datum": 16.1, "type": "quantitative", "axis": {"values": [0, 5, 10, 15], "title": "kcal"}}, "text": {"field": "label", "type": "nominal"}, "detail": {"field": "from", "type": "quantitative"}}
                },
                {
                  "data": {"name": "brC"},
                  "transform": [{"filter": "datum.group === 'Muscle-DN' && datum.level === 'top'"}],
                  "mark": {"type": "rule", "strokeWidth": 1.8, "xOffset": -9.3, "x2Offset": 8.3},
                  "encoding": {"x": {"field": "from", "type": "quantitative", "axis": {"values": [26, 27, 28, 29, 30, 31], "labelAngle": -45, "title": "Day"}}, "x2": {"field": "to"}, "y": {"datum": 18.93, "type": "quantitative", "axis": {"values": [0, 5, 10, 15], "title": "kcal"}}}
                },
                {
                  "data": {"name": "brC"},
                  "transform": [{"filter": "datum.group === 'Muscle-DN' && datum.level === 'top'"}],
                  "mark": {"type": "rule", "strokeWidth": 1.8, "xOffset": -9.3},
                  "encoding": {"x": {"field": "from", "type": "quantitative", "axis": {"values": [26, 27, 28, 29, 30, 31], "labelAngle": -45, "title": "Day"}}, "y": {"datum": 18.93, "type": "quantitative", "axis": {"values": [0, 5, 10, 15], "title": "kcal"}}, "y2": {"datum": 18.25}}
                },
                {
                  "data": {"name": "brC"},
                  "transform": [{"filter": "datum.group === 'Muscle-DN' && datum.level === 'top'"}],
                  "mark": {"type": "rule", "strokeWidth": 1.8, "xOffset": 8.3},
                  "encoding": {"x": {"field": "to", "type": "quantitative", "axis": {"values": [26, 27, 28, 29, 30, 31], "labelAngle": -45, "title": "Day"}}, "y": {"datum": 18.93, "type": "quantitative", "axis": {"values": [0, 5, 10, 15], "title": "kcal"}}, "y2": {"datum": 18.25}}
                },
                {
                  "data": {"name": "brC"},
                  "transform": [{"filter": "datum.group === 'Muscle-DN' && datum.level === 'top'"}, {"fold": ["from", "to"], "as": ["k", "v"]}],
                  "mark": {"type": "text", "fontSize": 13, "baseline": "alphabetic"},
                  "encoding": {"x": {"aggregate": "mean", "field": "v", "type": "quantitative", "axis": {"values": [26, 27, 28, 29, 30, 31], "labelAngle": -45, "title": "Day"}}, "y": {"datum": 19.5, "type": "quantitative", "axis": {"values": [0, 5, 10, 15], "title": "kcal"}}, "text": {"field": "label", "type": "nominal"}, "detail": {"field": "from", "type": "quantitative"}}
                }
              ]
            }
          ]
        },
        {
          "title": {"text": "D", "dx": -9, "offset": -12},
          "bounds": "flush",
          "spacing": 57,
          "hconcat": [
            {
              "width": 67, "height": 109,
              "layer": [
                {
                  "data": {"name": "barD"},
                  "transform": [{"filter": "datum.group === 'WT'"}],
                  "mark": {"type": "bar", "width": 12.5, "stroke": "black", "strokeWidth": 1.5, "orient": "vertical"},
                  "encoding": {
                    "x": {"field": "day", "type": "quantitative", "scale": {"domain": [124.5, 128.5]}, "axis": {"values": [125, 126, 127, 128], "labelAngle": -45, "title": "Day", "titlePadding": 10}},
                    "y": {"field": "kcal", "type": "quantitative", "stack": "zero", "scale": {"domain": [0, 25]}, "axis": {"values": [0, 5, 10, 15, 20, 25], "title": "kcal"}},
                    "fill": {"field": "comp", "type": "nominal", "scale": {"domain": ["Ensure", "Chow"], "range": ["#d3d3d3", "black"]},
                      "legend": {"orient": "none", "legendX": 35, "legendY": -63, "direction": "horizontal", "title": null, "symbolType": "square", "symbolSize": 130, "symbolStrokeColor": "black", "symbolStrokeWidth": 1.5, "labelFontSize": 12, "columnPadding": 14}},
                    "order": {"field": "comp", "sort": "descending"}
                  }
                },
                {
                  "data": {"name": "brD"},
                  "transform": [{"filter": "datum.group === 'WT' && datum.level === 'sub'"}],
                  "mark": {"type": "rule", "strokeWidth": 1.8, "xOffset": -6.3, "x2Offset": 6.3},
                  "encoding": {"x": {"field": "from", "type": "quantitative", "axis": {"values": [125, 126, 127, 128], "labelAngle": -45, "title": "Day", "titlePadding": 10}}, "x2": {"field": "to"}, "y": {"datum": 26.15, "type": "quantitative", "axis": {"values": [0, 5, 10, 15, 20, 25], "title": "kcal"}}}
                },
                {
                  "data": {"name": "brD"},
                  "transform": [{"filter": "datum.group === 'WT' && datum.level === 'sub'"}],
                  "mark": {"type": "rule", "strokeWidth": 1.8, "xOffset": -6.3},
                  "encoding": {"x": {"field": "from", "type": "quantitative", "axis": {"values": [125, 126, 127, 128], "labelAngle": -45, "title": "Day", "titlePadding": 10}}, "y": {"datum": 26.15, "type": "quantitative", "axis": {"values": [0, 5, 10, 15, 20, 25], "title": "kcal"}}, "y2": {"datum": 24.54}}
                },
                {
                  "data": {"name": "brD"},
                  "transform": [{"filter": "datum.group === 'WT' && datum.level === 'sub'"}],
                  "mark": {"type": "rule", "strokeWidth": 1.8, "xOffset": 6.3},
                  "encoding": {"x": {"field": "to", "type": "quantitative", "axis": {"values": [125, 126, 127, 128], "labelAngle": -45, "title": "Day", "titlePadding": 10}}, "y": {"datum": 26.15, "type": "quantitative", "axis": {"values": [0, 5, 10, 15, 20, 25], "title": "kcal"}}, "y2": {"datum": 24.54}}
                },
                {
                  "data": {"name": "brD"},
                  "transform": [{"filter": "datum.group === 'WT' && datum.level === 'sub'"}, {"fold": ["from", "to"], "as": ["k", "v"]}],
                  "mark": {"type": "text", "fontSize": 11, "baseline": "alphabetic"},
                  "encoding": {"x": {"aggregate": "mean", "field": "v", "type": "quantitative", "axis": {"values": [125, 126, 127, 128], "labelAngle": -45, "title": "Day", "titlePadding": 10}}, "y": {"datum": 26.8, "type": "quantitative", "axis": {"values": [0, 5, 10, 15, 20, 25], "title": "kcal"}}, "text": {"field": "label", "type": "nominal"}, "detail": {"field": "from", "type": "quantitative"}}
                },
                {
                  "data": {"name": "brD"},
                  "transform": [{"filter": "datum.group === 'WT' && datum.level === 'top'"}],
                  "mark": {"type": "rule", "strokeWidth": 1.8, "xOffset": -10.8, "x2Offset": 4.6},
                  "encoding": {"x": {"field": "from", "type": "quantitative", "axis": {"values": [125, 126, 127, 128], "labelAngle": -45, "title": "Day", "titlePadding": 10}}, "x2": {"field": "to"}, "y": {"datum": 31.5, "type": "quantitative", "axis": {"values": [0, 5, 10, 15, 20, 25], "title": "kcal"}}}
                },
                {
                  "data": {"name": "brD"},
                  "transform": [{"filter": "datum.group === 'WT' && datum.level === 'top'"}],
                  "mark": {"type": "rule", "strokeWidth": 1.8, "xOffset": -10.8},
                  "encoding": {"x": {"field": "from", "type": "quantitative", "axis": {"values": [125, 126, 127, 128], "labelAngle": -45, "title": "Day", "titlePadding": 10}}, "y": {"datum": 31.5, "type": "quantitative", "axis": {"values": [0, 5, 10, 15, 20, 25], "title": "kcal"}}, "y2": {"datum": 30.35}}
                },
                {
                  "data": {"name": "brD"},
                  "transform": [{"filter": "datum.group === 'WT' && datum.level === 'top'"}],
                  "mark": {"type": "rule", "strokeWidth": 1.8, "xOffset": 4.6},
                  "encoding": {"x": {"field": "to", "type": "quantitative", "axis": {"values": [125, 126, 127, 128], "labelAngle": -45, "title": "Day", "titlePadding": 10}}, "y": {"datum": 31.5, "type": "quantitative", "axis": {"values": [0, 5, 10, 15, 20, 25], "title": "kcal"}}, "y2": {"datum": 30.35}}
                },
                {
                  "data": {"name": "brD"},
                  "transform": [{"filter": "datum.group === 'WT' && datum.level === 'top'"}, {"fold": ["from", "to"], "as": ["k", "v"]}],
                  "mark": {"type": "text", "fontSize": 13, "baseline": "alphabetic"},
                  "encoding": {"x": {"aggregate": "mean", "field": "v", "type": "quantitative", "axis": {"values": [125, 126, 127, 128], "labelAngle": -45, "title": "Day", "titlePadding": 10}}, "y": {"datum": 32.4, "type": "quantitative", "axis": {"values": [0, 5, 10, 15, 20, 25], "title": "kcal"}}, "text": {"field": "label", "type": "nominal"}, "detail": {"field": "from", "type": "quantitative"}}
                }
              ]
            },
            {
              "width": 67, "height": 109,
              "layer": [
                {
                  "data": {"name": "barD"},
                  "transform": [{"filter": "datum.group === 'Muscle-DN'"}],
                  "mark": {"type": "bar", "width": 12.5, "stroke": "black", "strokeWidth": 1.5, "orient": "vertical"},
                  "encoding": {
                    "x": {"field": "day", "type": "quantitative", "scale": {"domain": [124.5, 128.5]}, "axis": {"values": [125, 126, 127, 128], "labelAngle": -45, "title": "Day", "titlePadding": 10}},
                    "y": {"field": "kcal", "type": "quantitative", "stack": "zero", "scale": {"domain": [0, 25]}, "axis": {"values": [0, 5, 10, 15, 20, 25], "title": "kcal"}},
                    "fill": {"field": "comp", "type": "nominal", "scale": {"domain": ["Ensure", "Chow"], "range": ["#d3d3d3", "black"]},
                      "legend": {"orient": "none", "legendX": 35, "legendY": -63, "direction": "horizontal", "title": null, "symbolType": "square", "symbolSize": 130, "symbolStrokeColor": "black", "symbolStrokeWidth": 1.5, "labelFontSize": 12, "columnPadding": 14}},
                    "order": {"field": "comp", "sort": "descending"}
                  }
                },
                {
                  "data": {"name": "brD"},
                  "transform": [{"filter": "datum.group === 'Muscle-DN' && datum.level === 'sub'"}],
                  "mark": {"type": "rule", "strokeWidth": 1.8, "xOffset": -6.3, "x2Offset": 6.3},
                  "encoding": {"x": {"field": "from", "type": "quantitative", "axis": {"values": [125, 126, 127, 128], "labelAngle": -45, "title": "Day", "titlePadding": 10}}, "x2": {"field": "to"}, "y": {"datum": 26.15, "type": "quantitative", "axis": {"values": [0, 5, 10, 15, 20, 25], "title": "kcal"}}}
                },
                {
                  "data": {"name": "brD"},
                  "transform": [{"filter": "datum.group === 'Muscle-DN' && datum.level === 'sub'"}],
                  "mark": {"type": "rule", "strokeWidth": 1.8, "xOffset": -6.3},
                  "encoding": {"x": {"field": "from", "type": "quantitative", "axis": {"values": [125, 126, 127, 128], "labelAngle": -45, "title": "Day", "titlePadding": 10}}, "y": {"datum": 26.15, "type": "quantitative", "axis": {"values": [0, 5, 10, 15, 20, 25], "title": "kcal"}}, "y2": {"datum": 24.54}}
                },
                {
                  "data": {"name": "brD"},
                  "transform": [{"filter": "datum.group === 'Muscle-DN' && datum.level === 'sub'"}],
                  "mark": {"type": "rule", "strokeWidth": 1.8, "xOffset": 6.3},
                  "encoding": {"x": {"field": "to", "type": "quantitative", "axis": {"values": [125, 126, 127, 128], "labelAngle": -45, "title": "Day", "titlePadding": 10}}, "y": {"datum": 26.15, "type": "quantitative", "axis": {"values": [0, 5, 10, 15, 20, 25], "title": "kcal"}}, "y2": {"datum": 24.54}}
                },
                {
                  "data": {"name": "brD"},
                  "transform": [{"filter": "datum.group === 'Muscle-DN' && datum.level === 'sub'"}, {"fold": ["from", "to"], "as": ["k", "v"]}],
                  "mark": {"type": "text", "fontSize": 11, "baseline": "alphabetic"},
                  "encoding": {"x": {"aggregate": "mean", "field": "v", "type": "quantitative", "axis": {"values": [125, 126, 127, 128], "labelAngle": -45, "title": "Day", "titlePadding": 10}}, "y": {"datum": 26.8, "type": "quantitative", "axis": {"values": [0, 5, 10, 15, 20, 25], "title": "kcal"}}, "text": {"field": "label", "type": "nominal"}, "detail": {"field": "from", "type": "quantitative"}}
                },
                {
                  "data": {"name": "brD"},
                  "transform": [{"filter": "datum.group === 'Muscle-DN' && datum.level === 'top'"}],
                  "mark": {"type": "rule", "strokeWidth": 1.8, "xOffset": -10.8, "x2Offset": 4.6},
                  "encoding": {"x": {"field": "from", "type": "quantitative", "axis": {"values": [125, 126, 127, 128], "labelAngle": -45, "title": "Day", "titlePadding": 10}}, "x2": {"field": "to"}, "y": {"datum": 31.5, "type": "quantitative", "axis": {"values": [0, 5, 10, 15, 20, 25], "title": "kcal"}}}
                },
                {
                  "data": {"name": "brD"},
                  "transform": [{"filter": "datum.group === 'Muscle-DN' && datum.level === 'top'"}],
                  "mark": {"type": "rule", "strokeWidth": 1.8, "xOffset": -10.8},
                  "encoding": {"x": {"field": "from", "type": "quantitative", "axis": {"values": [125, 126, 127, 128], "labelAngle": -45, "title": "Day", "titlePadding": 10}}, "y": {"datum": 31.5, "type": "quantitative", "axis": {"values": [0, 5, 10, 15, 20, 25], "title": "kcal"}}, "y2": {"datum": 30.35}}
                },
                {
                  "data": {"name": "brD"},
                  "transform": [{"filter": "datum.group === 'Muscle-DN' && datum.level === 'top'"}],
                  "mark": {"type": "rule", "strokeWidth": 1.8, "xOffset": 4.6},
                  "encoding": {"x": {"field": "to", "type": "quantitative", "axis": {"values": [125, 126, 127, 128], "labelAngle": -45, "title": "Day", "titlePadding": 10}}, "y": {"datum": 31.5, "type": "quantitative", "axis": {"values": [0, 5, 10, 15, 20, 25], "title": "kcal"}}, "y2": {"datum": 30.35}}
                },
                {
                  "data": {"name": "brD"},
                  "transform": [{"filter": "datum.group === 'Muscle-DN' && datum.level === 'top'"}, {"fold": ["from", "to"], "as": ["k", "v"]}],
                  "mark": {"type": "text", "fontSize": 13, "baseline": "alphabetic"},
                  "encoding": {"x": {"aggregate": "mean", "field": "v", "type": "quantitative", "axis": {"values": [125, 126, 127, 128], "labelAngle": -45, "title": "Day", "titlePadding": 10}}, "y": {"datum": 32.4, "type": "quantitative", "axis": {"values": [0, 5, 10, 15, 20, 25], "title": "kcal"}}, "text": {"field": "label", "type": "nominal"}, "detail": {"field": "from", "type": "quantitative"}}
                }
              ]
            }
          ]
        }
      ]
    }
  ]
}
